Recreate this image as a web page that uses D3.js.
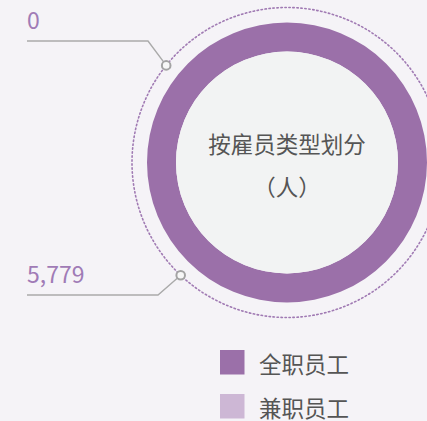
<!DOCTYPE html>
<html>
<head>
<meta charset="utf-8">
<script src="https://cdn.jsdelivr.net/npm/d3@7"></script>
<style>
  html, body { margin: 0; padding: 0; background: #f5f3f7; }
  svg { display: block; }
  text { font-family: "Noto Sans CJK SC", "Noto Sans", sans-serif; }
</style>
</head>
<body>
<svg id="chart" width="427" height="421"></svg>
<script>
// Employees by type (headcount)
const categories = ["全职员工", "兼职员工"];
const values = [5779, 0];
const colors = ["#9b70a9", "#cdb7d5"];
const titleLines = ["按雇员类型划分", "（人）"];

const svg = d3.select("#chart");
const W = 427, H = 421;
const cx = 287, cy = 162.5;
const rOuter = 140, rInner = 111, rDots = 155;

svg.append("rect").attr("width", W).attr("height", H).attr("fill", "#f5f3f7");

const g = svg.append("g").attr("transform", `translate(${cx},${cy})`);

// dotted guide ring
g.append("circle")
  .attr("r", rDots)
  .attr("fill", "none")
  .attr("stroke", "#a07ab3")
  .attr("stroke-width", 1.6)
  .attr("stroke-dasharray", "1.4 2.6")
  .attr("stroke-linecap", "round");

const pie = d3.pie().sort(null).value(d => d);
const arc = d3.arc().innerRadius(rInner).outerRadius(rOuter);

g.selectAll("path.slice")
  .data(pie(values))
  .join("path")
  .attr("class", "slice")
  .attr("d", arc)
  .attr("fill", (d, i) => colors[i]);

// centre disc and title
g.append("circle").attr("r", rInner).attr("fill", "#f2f3f3");
g.selectAll("text.title")
  .data(titleLines)
  .join("text")
  .attr("class", "title")
  .attr("x", 0)
  .attr("y", (d, i) => -20 + i * 43)
  .attr("text-anchor", "middle")
  .attr("dominant-baseline", "central")
  .attr("font-size", 22.5)
  .attr("fill", "#555")
  .text(d => d);

// value callouts: each category has an anchor angle on the dotted ring,
// a horizontal leader line running to the left margin, and its value above it
const fmt = d3.format(",");
const callouts = [
  { idx: 1, angle: -51.2, lineY: 41, elbowX: 148 },
  { idx: 0, angle: -136.7, lineY: 295, elbowX: 158 }
];
const leftX = 27;

callouts.forEach(c => {
  const a = c.angle * Math.PI / 180;
  const px = cx + rDots * Math.sin(a);
  const py = cy - rDots * Math.cos(a);
  svg.append("polyline")
    .attr("points", `${leftX},${c.lineY} ${c.elbowX},${c.lineY} ${px},${py}`)
    .attr("fill", "none")
    .attr("stroke", "#aaaaaa")
    .attr("stroke-width", 1.4);
  svg.append("circle")
    .attr("cx", px).attr("cy", py).attr("r", 4.3)
    .attr("fill", "#f7f7f7")
    .attr("stroke", "#a3a3a3")
    .attr("stroke-width", 2);
  svg.append("text")
    .attr("x", leftX)
    .attr("y", c.lineY - 12)
    .attr("font-size", 23)
    .attr("fill", "#a07bb6")
    .text(fmt(values[c.idx]));
});

// legend
const legend = svg.append("g").attr("transform", "translate(220,350)");
const items = legend.selectAll("g")
  .data(categories)
  .join("g")
  .attr("transform", (d, i) => `translate(0,${i * 44})`);
items.append("rect")
  .attr("width", 24.5).attr("height", 24.5)
  .attr("fill", (d, i) => colors[i]);
items.append("text")
  .attr("x", 39)
  .attr("y", 12.5)
  .attr("dominant-baseline", "central")
  .attr("font-size", 22.5)
  .attr("fill", "#555")
  .text(d => d);
</script>
</body>
</html>
